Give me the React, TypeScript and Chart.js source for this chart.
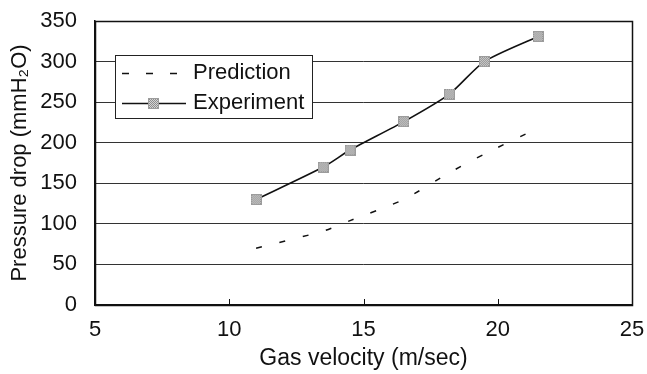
import { useEffect, useRef } from 'react';
import { Chart, registerables } from 'chart.js';

Chart.register(...registerables);

// ---- data ----
const gasVelocity = [11, 13.5, 14.5, 16.5, 18.2, 19.5, 21.5];
const experimentDrop = [130, 170, 191, 226, 260, 300, 331];
const predictionDrop = [70, 91, 104, 130, 163, 186, 218];
const xTickValues = [5, 10, 15, 20, 25];
const seriesNames = ['Prediction', 'Experiment'];
const xTitle = 'Gas velocity (m/sec)';
const yTitle = 'Pressure drop (mmH\u2082O)';

const FONT = '"Liberation Sans", Arial, sans-serif';

function makeMarker(): HTMLCanvasElement {
  const n = 11;
  const c = document.createElement('canvas');
  c.width = n;
  c.height = n;
  const g = c.getContext('2d')!;
  g.fillStyle = '#d4d4d4';
  g.fillRect(0, 0, n, n);
  g.fillStyle = '#8e8e8e';
  for (let i = 0; i < n; i++) {
    for (let j = 0; j < n; j++) {
      if ((i + j) % 2 === 0) g.fillRect(i, j, 1, 1);
    }
  }
  g.strokeStyle = '#9c9c9c';
  g.lineWidth = 1;
  g.strokeRect(0.5, 0.5, n - 1, n - 1);
  return c;
}

export default function App() {
  const ref = useRef<HTMLCanvasElement | null>(null);

  useEffect(() => {
    const canvas = ref.current;
    if (!canvas) return;
    const marker = makeMarker();

    const framePlugin = {
      id: 'frameAndLegend',
      afterDraw(chart: any) {
        const { ctx, chartArea } = chart;
        const xs = chart.scales.x;
        ctx.save();
        // frame
        ctx.strokeStyle = '#111';
        ctx.lineWidth = 1.5;
        ctx.strokeRect(
          Math.round(chartArea.left) + 0.5,
          Math.round(chartArea.top) + 0.5,
          Math.round(chartArea.right - chartArea.left),
          Math.round(chartArea.bottom - chartArea.top)
        );
        // inward x ticks
        ctx.lineWidth = 1;
        xTickValues.forEach((v) => {
          const px = Math.round(xs.getPixelForValue(v)) + 0.5;
          ctx.beginPath();
          ctx.moveTo(px, chartArea.bottom);
          ctx.lineTo(px, chartArea.bottom - 6);
          ctx.stroke();
        });
        // legend box
        const bx = 115, by = 55, bw = 197, bh = 63;
        ctx.fillStyle = '#fff';
        ctx.fillRect(bx, by, bw, bh);
        ctx.strokeStyle = '#222';
        ctx.lineWidth = 1;
        ctx.strokeRect(bx + 0.5, by + 0.5, bw, bh);
        // prediction row
        ctx.strokeStyle = '#111';
        ctx.lineWidth = 1.5;
        ctx.setLineDash([7, 17]);
        ctx.beginPath();
        ctx.moveTo(122, 73.5);
        ctx.lineTo(186, 73.5);
        ctx.stroke();
        ctx.setLineDash([]);
        // experiment row
        ctx.beginPath();
        ctx.moveTo(122, 103.5);
        ctx.lineTo(186, 103.5);
        ctx.stroke();
        ctx.drawImage(marker, 148, 98);
        ctx.fillStyle = '#111';
        ctx.font = `22px ${FONT}`;
        ctx.textBaseline = 'middle';
        ctx.textAlign = 'left';
        ctx.fillText(seriesNames[0], 193, 73);
        ctx.fillText(seriesNames[1], 193, 103);
        ctx.restore();
      },
    };

    const chart = new Chart(canvas, {
      type: 'line',
      data: {
        datasets: [
          {
            label: seriesNames[0],
            data: gasVelocity.map((x, i) => ({ x, y: predictionDrop[i] })),
            borderColor: '#111',
            borderWidth: 1.5,
            borderDash: [6, 18],
            pointRadius: 0,
            tension: 0.2,
            fill: false,
          },
          {
            label: seriesNames[1],
            data: gasVelocity.map((x, i) => ({ x, y: experimentDrop[i] })),
            borderColor: '#111',
            borderWidth: 1.6,
            pointStyle: marker as any,
            pointRadius: 5.5,
            tension: 0.25,
            fill: false,
          },
        ],
      },
      options: {
        animation: false,
        responsive: false,
        maintainAspectRatio: false,
        layout: { padding: { left: 4, right: 15, top: 21, bottom: 0 } },
        plugins: { legend: { display: false }, tooltip: { enabled: false } },
        scales: {
          x: {
            type: 'linear',
            min: 5,
            max: 25,
            afterFit: (s: any) => {
              s.height = 69;
              s.paddingLeft = 0;
              s.paddingRight = 0;
            },
            afterBuildTicks: (s: any) => {
              s.ticks = xTickValues.map((v) => ({ value: v }));
            },
            ticks: {
              color: '#111',
              font: { family: FONT, size: 22 },
              padding: 12,
              maxRotation: 0,
            },
            grid: { display: false, drawTicks: false },
            border: { display: true, color: '#111', width: 1.5 },
            title: {
              display: true,
              text: xTitle,
              color: '#111',
              font: { family: FONT, size: 23 },
              padding: { top: 0, bottom: 2 },
            },
          },
          y: {
            type: 'linear',
            min: 0,
            max: 350,
            afterFit: (s: any) => {
              s.width = 91;
              s.paddingTop = 0;
              s.paddingBottom = 0;
            },
            ticks: {
              stepSize: 50,
              color: '#111',
              font: { family: FONT, size: 22 },
              padding: 18,
            },
            grid: { color: '#333', lineWidth: 1, drawTicks: false },
            border: { display: true, color: '#111', width: 1.5 },
            title: {
              display: true,
              text: yTitle,
              color: '#111',
              font: { family: FONT, size: 22 },
              padding: { top: 3, bottom: 0 },
            },
          },
        },
      },
      plugins: [framePlugin],
    });
    return () => chart.destroy();
  }, []);

  return (
    <div style={{ position: 'fixed', left: 0, top: 0, width: 647, height: 374, background: '#fff' }}>
      <canvas ref={ref} width={647} height={374} style={{ width: 647, height: 374, display: 'block' }} />
    </div>
  );
}
